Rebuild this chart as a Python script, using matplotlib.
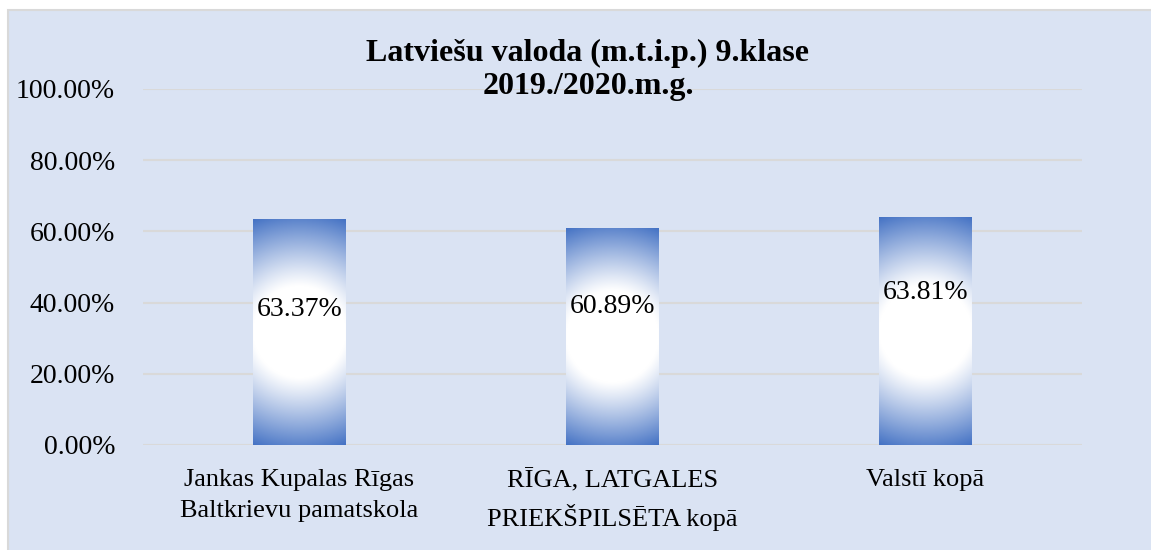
import numpy as np
import matplotlib
matplotlib.use("Agg")
import matplotlib.pyplot as plt
from matplotlib.patches import Rectangle
from matplotlib.colors import to_rgb

categories = ["Jankas Kupalas Rīgas\nBaltkrievu pamatskola",
              "RĪGA, LATGALES\nPRIEKŠPILSĒTA kopā",
              "Valstī kopā"]
values = [63.37, 60.89, 63.81]
value_labels = ["63.37%", "60.89%", "63.81%"]
label_frac = [0.60, 0.64, 0.67]
yticks = [0, 20, 40, 60, 80, 100]
ytick_labels = ["0.00%", "20.00%", "40.00%", "60.00%", "80.00%", "100.00%"]
title = "Latviešu valoda (m.t.i.p.) 9.klase\n2019./2020.m.g."

bg = "#DAE3F3"
blue = np.array(to_rgb("#4472C4"))
white = np.ones(3)

W, H, DPI = 11.51, 5.5, 100
fig = plt.figure(figsize=(W, H), dpi=DPI)
fig.patch.set_facecolor("white")
# chart area with border (right/bottom run off the image)
fig.patches.append(Rectangle((8 / 1151, -0.05), 1.1, 1.05 - 10 / 550,
                             transform=fig.transFigure, facecolor=bg,
                             edgecolor="#D9D9D9", lw=1.5, zorder=-5))

ax = fig.add_axes([143 / 1151, 1 - 445 / 550, (1082 - 143) / 1151, (445 - 89) / 550])
ax.set_zorder(2)
ax.patch.set_alpha(0)
ax.set_xlim(-0.5, 2.5)
ax.set_ylim(0, 100)

ax.set_yticks(yticks)
ax.set_yticklabels(ytick_labels, fontsize=20, family="Liberation Serif")
ax.tick_params(axis="y", length=0, pad=20)
ax.set_xticks(range(len(categories)))
ax.set_xticklabels(categories, fontsize=19, family="Liberation Serif", linespacing=1.55)
ax.tick_params(axis="x", length=0, pad=17)
for s in ax.spines.values():
    s.set_visible(False)
ax.grid(axis="y", color="#D9D9D9", lw=1.5)
ax.set_axisbelow(True)

bw = 0.294
px_per_x = (1082 - 143) / 3
px_per_y = (445 - 89) / 100
for i, v in enumerate(values):
    x0, x1 = i - bw / 2, i + bw / 2
    nx, ny = 100, 240
    xs = np.linspace(-bw / 2, bw / 2, nx) * px_per_x
    ys = np.linspace(-v / 2, v / 2, ny) * px_per_y
    XX, YY = np.meshgrid(xs, ys)
    d = np.sqrt(XX ** 2 + YY ** 2)
    dmax = np.sqrt((bw / 2 * px_per_x) ** 2 + (v / 2 * px_per_y) ** 2)
    t = np.clip((d - 46) / (dmax - 46), 0, 1) ** 1.1
    img = white[None, None, :] * (1 - t[..., None]) + blue[None, None, :] * t[..., None]
    ax.imshow(img, extent=(x0, x1, 0, v), origin="lower", aspect="auto",
              interpolation="bilinear", zorder=2)
    ax.text(i, v * label_frac[i], value_labels[i], ha="center", va="center",
            fontsize=20, family="Liberation Serif", zorder=3)

ax.set_xlim(-0.5, 2.5)
ax.set_ylim(0, 100)

fig.text(588 / 1151, 1 - 70 / 550, title, ha="center", va="center",
         fontsize=23, fontweight="bold", family="Liberation Serif", linespacing=1.15)

fig.savefig("out.png", dpi=DPI, facecolor=fig.get_facecolor())
